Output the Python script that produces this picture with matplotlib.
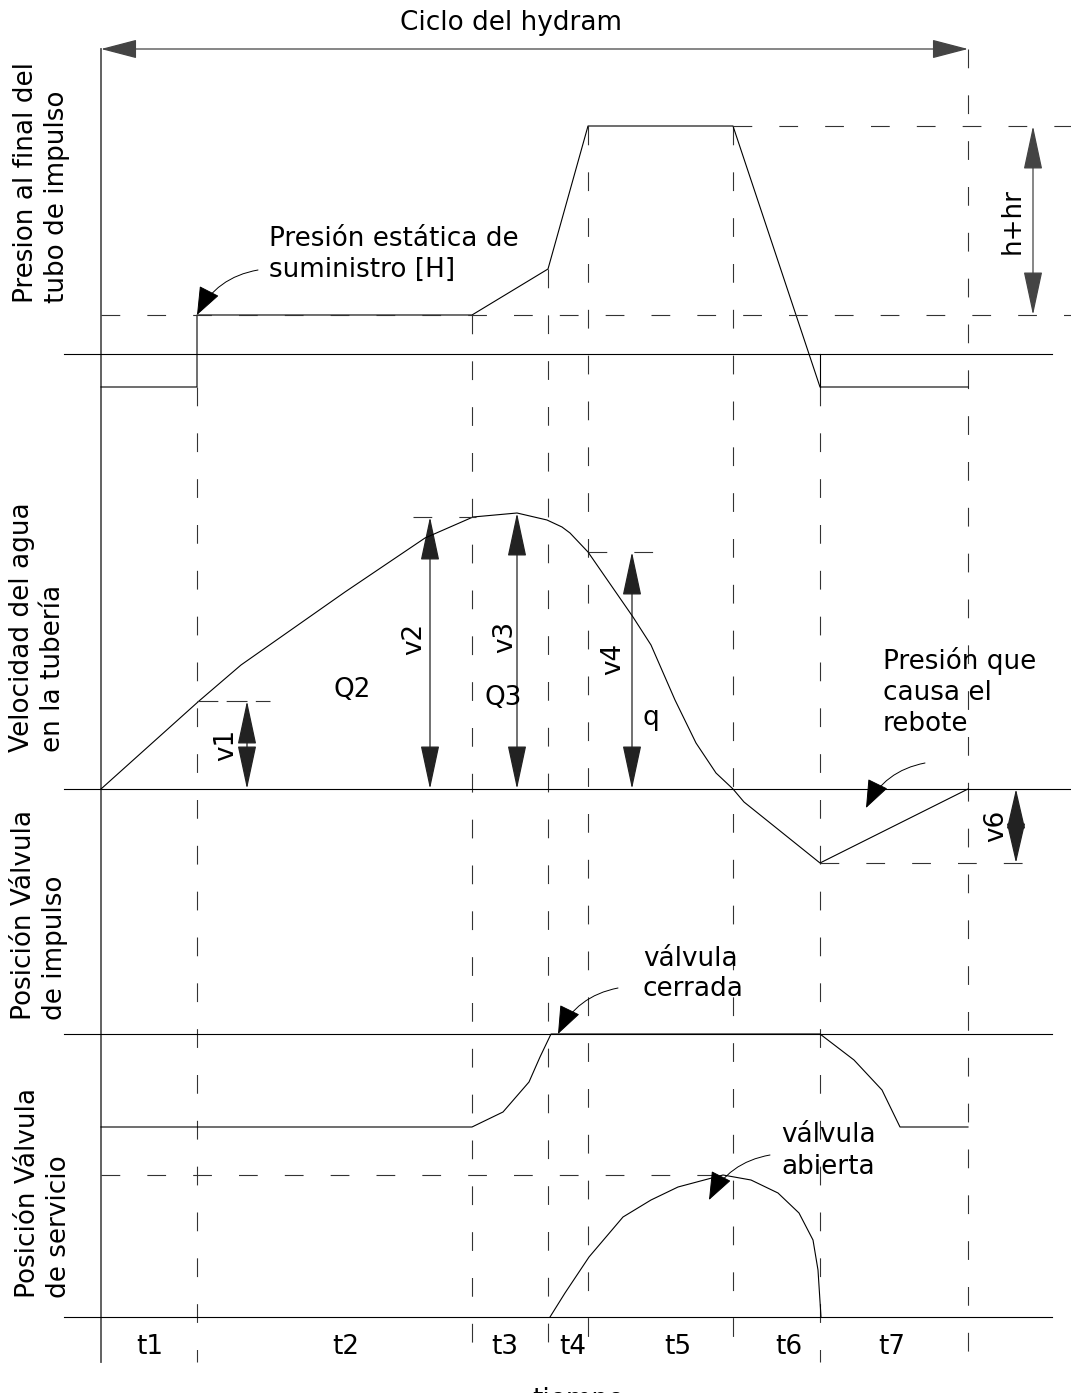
import matplotlib.pyplot as plt
from matplotlib.patches import FancyArrowPatch

plt.rcParams['font.family'] = ['DejaVu Sans']
plt.rcParams['lines.scale_dashes'] = False

## datos ----------------------------------------------------------------
# instantes que separan los tramos t1..t7 (posicion en el eje del tiempo)
t_edges = [101, 197, 472, 548, 588, 733, 820, 968]
t_names = ['t1', 't2', 't3', 't4', 't5', 't6', 't7']
t_name_x = [150, 346, 505, 573, 678, 789, 892]

# presion al final del tubo de impulso (sobre su linea base)
pres_t = [101, 197, 197, 472, 548, 588, 733, 820, 968]
pres_v = [-33, -33, 39, 39, 85, 228, 228, -33, -33]
H_level = 39
peak_level = 228

# velocidad del agua en la tuberia
vel_t = [101, 199, 241, 345, 425, 473, 517, 547, 562, 570, 588, 633, 651, 675, 696, 716, 733, 744, 820, 968]
vel_v = [0, 88, 124, 197, 251, 272, 276, 269, 262, 256, 237, 172, 144, 89, 46, 16, 0, -13, -74, 0]

# cotas de velocidad
v_names = ['v1', 'v2', 'v3', 'v4', 'v6']
v_t = [247, 430, 517, 632, 1016]
v_val = [88, 272, 276, 237, -74]

# posicion valvula de impulso (0 = cerrada)
imp_t = [101, 472, 503, 529, 540, 551, 820, 854, 882, 900, 968]
imp_v = [-93, -93, -78, -48, -23, 0, 0, -26, -56, -93, -93]

# posicion valvula de servicio (0 = cerrada)
serv_t = [550, 565, 589, 623, 651, 678, 723, 751, 778, 799, 813, 818, 821]
serv_v = [0, 24, 60, 100, 117, 130, 142, 137, 124, 104, 77, 47, 0]
open_level = 142

## dibujo ---------------------------------------------------------------
W, Hpx = 1071, 1393
fig = plt.figure(figsize=(W / 100, Hpx / 100), dpi=100)
ax = fig.add_axes([0, 0, 1, 1])
ax.set_xlim(0, W)
ax.set_ylim(Hpx, 0)
ax.axis('off')

# lineas base de cada panel
b_pres, b_vel, b_imp, b_serv = 354, 789, 1034, 1317
top = 49
bottom = 1362
dash = (0, (13.5, 19.5))
lw = 0.8
fs = 18.9


def dim_arrow(x0, y0, x1, y1, hl=28, hw=6, color='#222'):
    ax.add_patch(FancyArrowPatch((x0, y0), (x1, y1),
                                 arrowstyle=f'<|-|>,head_length={hl},head_width={hw}',
                                 mutation_scale=1, shrinkA=0, shrinkB=0,
                                 color=color, lw=0.9))


def note(x0, y0, x1, y1):
    ax.annotate('', xy=(x1, y1), xytext=(x0, y0),
                arrowprops=dict(arrowstyle='-|>,head_length=18,head_width=7',
                                mutation_scale=1, connectionstyle='arc3,rad=0.25',
                                color='k', lw=0.7, shrinkA=0, shrinkB=0))


# linea vertical inicial y verticales discontinuas
ax.plot([t_edges[0], t_edges[0]], [top, bottom], color='#555', lw=1.3)
starts = [None, b_pres - pres_v[0], b_pres - H_level, b_pres - pres_v[4],
          b_pres - peak_level, b_pres - peak_level, b_pres - pres_v[-1], top]
for x, s in zip(t_edges[1:], starts[1:]):
    ax.plot([x, x], [s, bottom], color='#333', lw=lw, ls=dash)

# lineas base
for b, xr in [(b_pres, 1052), (b_vel, W), (b_imp, 1052), (b_serv, 1052)]:
    ax.plot([64, xr], [b, b], color='k', lw=lw)

# presion
ax.plot(pres_t, [b_pres - v for v in pres_v], color='k', lw=lw)
ax.plot([t_edges[6], t_edges[6]], [b_pres, b_pres - pres_v[-1]], color='k', lw=lw)
ax.plot([t_edges[0], W], [b_pres - H_level] * 2, color='#333', lw=lw, ls=dash)
ax.plot([t_edges[5], W], [b_pres - peak_level] * 2, color='#333', lw=lw, ls=dash)
dim_arrow(1033, b_pres - H_level, 1033, b_pres - peak_level, hl=28, hw=6, color='#444')
ax.text(1013, b_pres - (H_level + peak_level) / 2, 'h+hr', rotation=90,
        ha='center', va='center', fontsize=fs)

# ciclo
dim_arrow(t_edges[0], top, t_edges[-1], top, hl=23, hw=6, color='#444')
ax.text(511, 23, 'Ciclo del hydram', ha='center', va='center', fontsize=fs)

ax.text(269, 254, 'Presión estática de\nsuministro [H]', ha='left', va='center',
        fontsize=fs, linespacing=1.25)
note(258, 270, t_edges[1], b_pres - H_level)

# velocidad
ax.plot(vel_t, [b_vel - v for v in vel_v], color='k', lw=lw)
ax.plot([197, 270], [b_vel - v_val[0]] * 2, color='#333', lw=lw, ls=(0, (15, 6)))
ax.plot([413, 476], [b_vel - v_val[1]] * 2, color='#333', lw=lw, ls=dash)
ax.plot([t_edges[4], 660], [b_vel - v_val[3]] * 2, color='#333', lw=lw, ls=dash)
ax.plot([t_edges[6], 1044], [b_vel - v_val[4]] * 2, color='#333', lw=lw, ls=dash)
v_lab_dx = [-21, -16, -12, -19, -20]
for name, x, v, dx in zip(v_names, v_t, v_val, v_lab_dx):
    hl = 26 if abs(v) < 80 else 28
    dim_arrow(x, b_vel, x, b_vel - v, hl=hl)
    ymid = b_vel - v / 2 if abs(v) < 100 else b_vel - v * 0.55
    ax.text(x + dx, ymid, name, rotation=90, ha='center', va='center', fontsize=fs)
ax.text(352, 690, 'Q2', ha='center', va='center', fontsize=fs)
ax.text(503, 698, 'Q3', ha='center', va='center', fontsize=fs)
ax.text(651, 718, 'q', ha='center', va='center', fontsize=fs)

ax.text(883, 692, 'Presión que\ncausa el\nrebote', ha='left', va='center',
        fontsize=fs, linespacing=1.25)
note(925, 763, 866, 808)

# valvula de impulso
ax.plot(imp_t, [b_imp - v for v in imp_v], color='k', lw=lw)
ax.text(643, 974, 'válvula\ncerrada', ha='left', va='center', fontsize=fs, linespacing=1.25)
note(618, 988, 558, b_imp)

# valvula de servicio
ax.plot([t_edges[0], 712], [b_serv - open_level] * 2, color='#333', lw=lw, ls=dash)
ax.plot(serv_t, [b_serv - v for v in serv_v], color='k', lw=lw)
ax.text(781, 1151, 'válvula\nabierta', ha='left', va='center', fontsize=fs, linespacing=1.25)
note(770, 1155, 709, 1200)

# tramos de tiempo
for name, x in zip(t_names, t_name_x):
    ax.text(x, 1347, name, ha='center', va='center', fontsize=fs)
ax.text(578, 1387, 'tiempo', ha='center', va='top', fontsize=fs)

# etiquetas de los paneles
labels = ['Presion al final del\ntubo de impulso', 'Velocidad del agua\nen la tubería',
          'Posición Válvula\nde impulso', 'Posición Válvula\nde servicio']
lab_x = [42, 38, 40, 44]
lab_y = [303, 752, 1020, 1298]
for s, x, y in zip(labels, lab_x, lab_y):
    ax.text(x, y, s, rotation=90, ha='center', va='bottom', fontsize=fs,
            multialignment='left', linespacing=1.25)

fig.savefig('out.png', dpi=100)
